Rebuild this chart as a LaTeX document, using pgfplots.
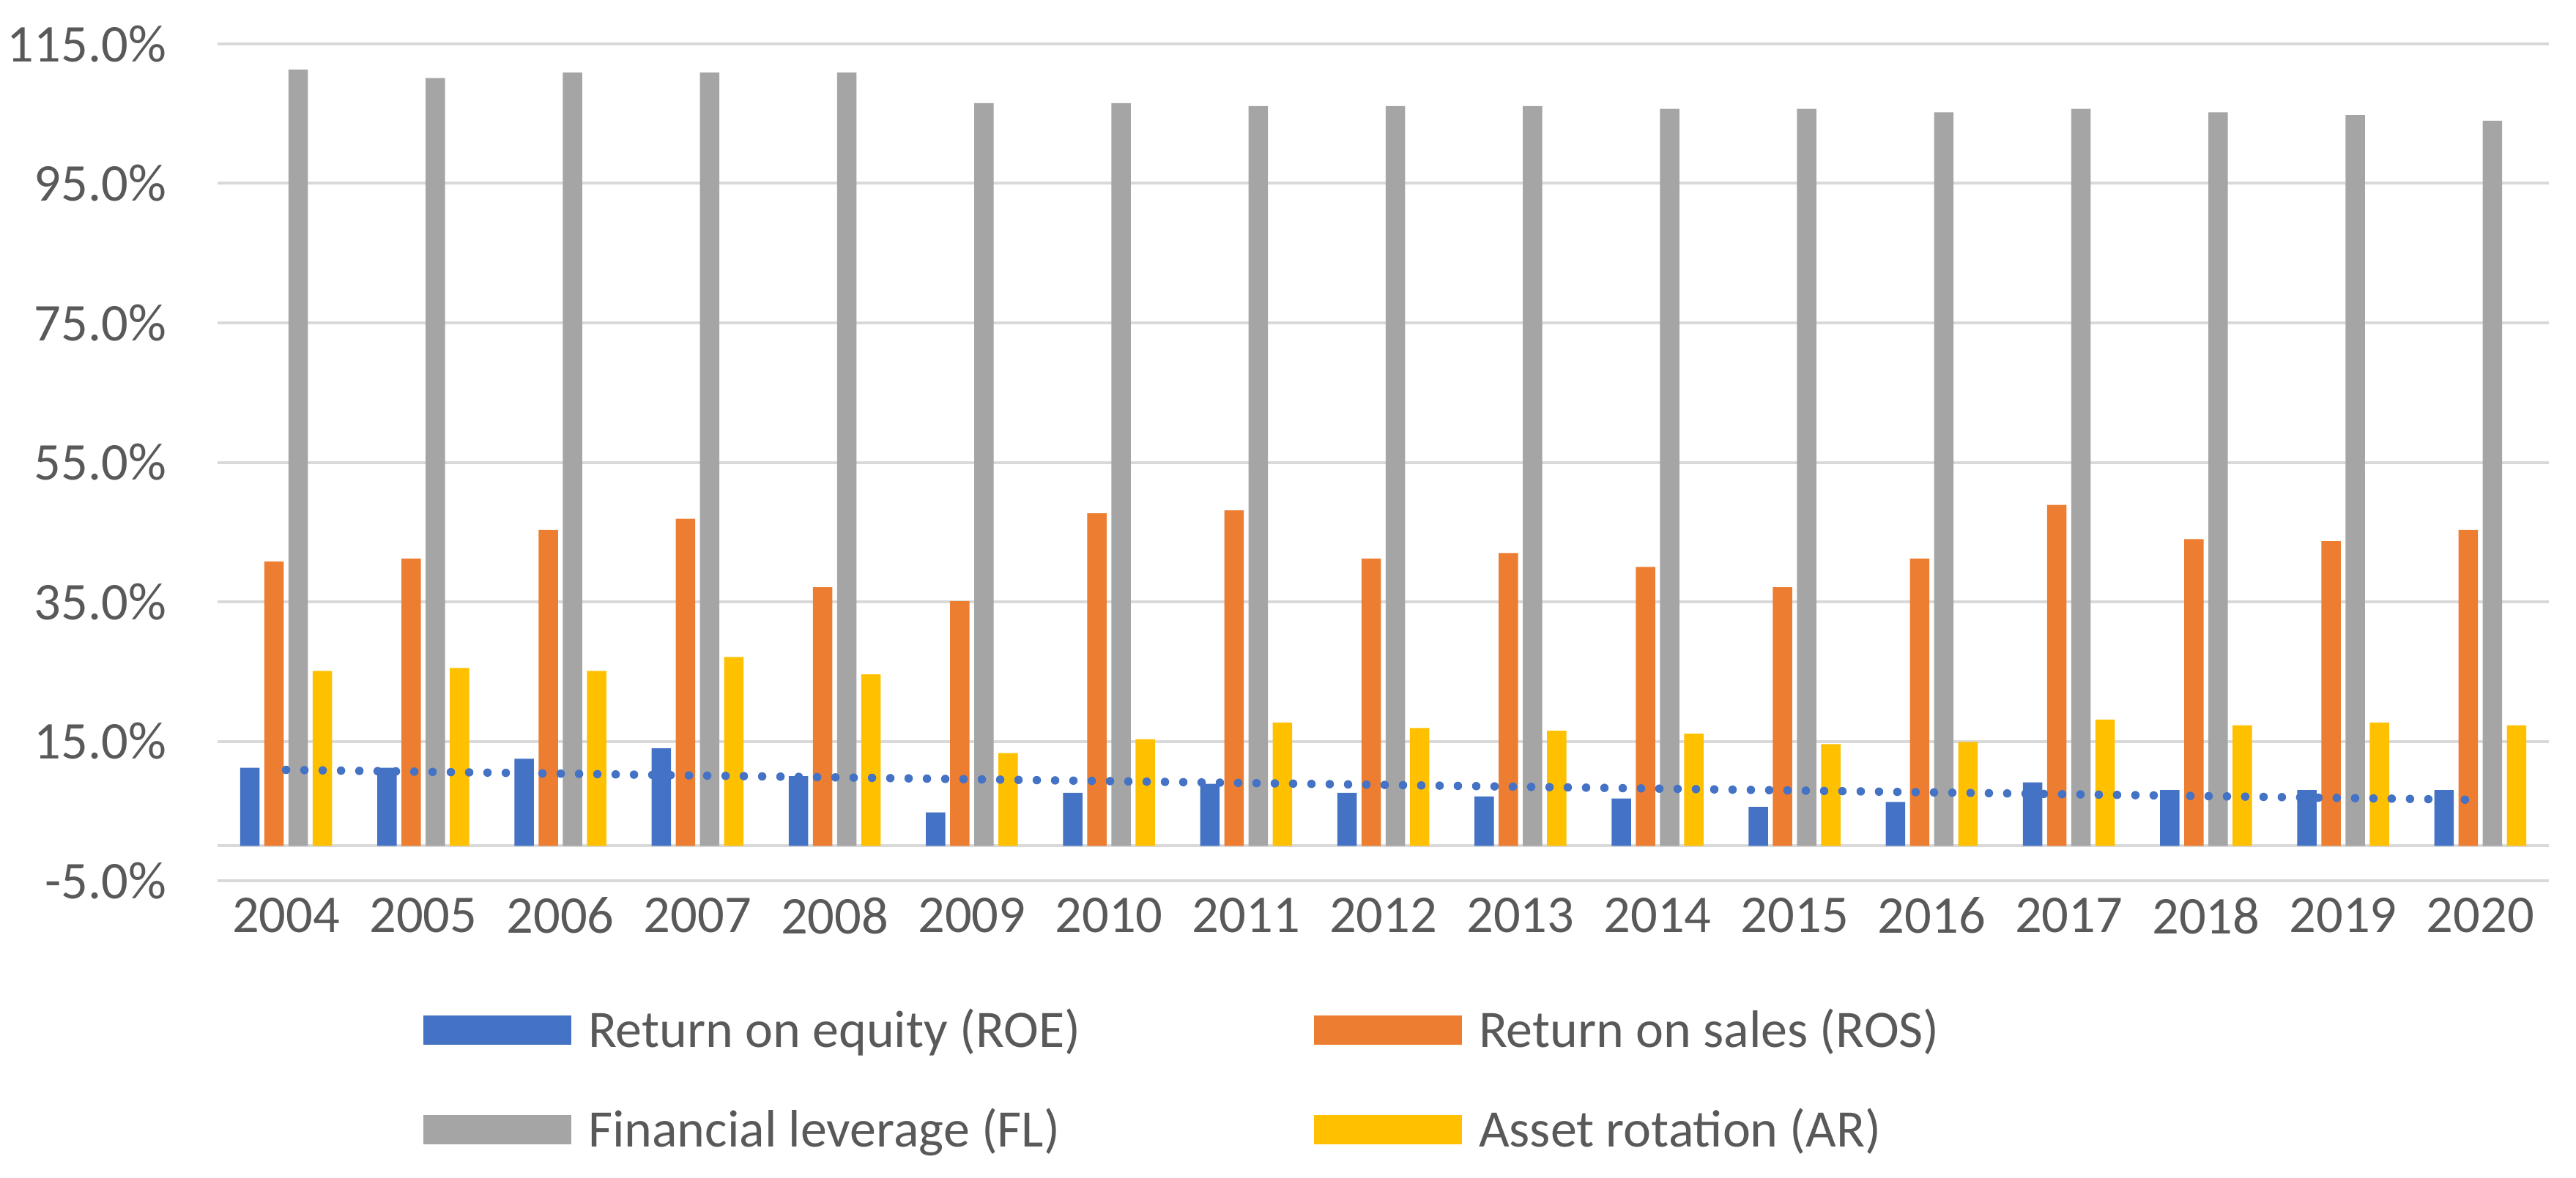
\documentclass[border=0pt]{standalone}
\usepackage{fontspec}
\setmainfont{Carlito}
\usepackage{pgfplots}
\usepackage{pgfplotstable}
\pgfplotsset{compat=1.18}
\definecolor{roe}{HTML}{4472C4}
\definecolor{ros}{HTML}{ED7D31}
\definecolor{fl}{HTML}{A5A5A5}
\definecolor{ar}{HTML}{FFC000}
\definecolor{gridc}{HTML}{D9D9D9}
\definecolor{txt}{HTML}{595959}

\pgfplotstableread{
x ROE ROS FL AR
0 11.2 40.8 111.3 25.1
1 11.2 41.2 110.1 25.5
2 12.5 45.3 110.9 25.1
3 14.0 46.9 110.9 27.1
4 10.0 37.1 110.9 24.6
5 4.8 35.1 106.5 13.3
6 7.6 47.7 106.5 15.3
7 8.9 48.1 106.1 17.7
8 7.6 41.2 106.1 16.9
9 7.1 42.0 106.1 16.5
10 6.8 40.0 105.7 16.1
11 5.6 37.1 105.7 14.6
12 6.3 41.2 105.2 14.9
13 9.1 48.9 105.7 18.1
14 8.0 44.0 105.2 17.3
15 8.0 43.7 104.8 17.7
16 8.0 45.3 104.0 17.3
}\data

\begin{document}
\begin{tikzpicture}
\path[use as bounding box] (-59.4pt,-81pt) rectangle (644pt,240.6pt);
\begin{axis}[
  scale only axis, width=636.6pt, height=228.6pt,
  xmin=-0.5, xmax=16.5, ymin=-5, ymax=115,
  axis line style={draw=none},
  tick style={draw=none}, major tick length=0pt,
  ytick={-5,15,35,55,75,95,115},
  yticklabels={-5.0\%,15.0\%,35.0\%,55.0\%,75.0\%,95.0\%,115.0\%},
  xtick={0,1,2,3,4,5,6,7,8,9,10,11,12,13,14,15,16},
  xticklabels={2004,2005,2006,2007,2008,2009,2010,2011,2012,2013,2014,2015,2016,2017,2018,2019,2020},
  ymajorgrids, grid style={gridc, line width=0.8pt},
  extra y ticks={0}, extra y tick labels={},
  extra y tick style={grid=major, grid style={gridc, line width=0.8pt}},
  tick label style={font=\fontsize{14.5}{16}\selectfont, text=txt, inner sep=0pt},
  yticklabel style={anchor=east, xshift=-13.8pt},
  xticklabel style={anchor=north, yshift=-4.4pt},
  bar width=5.3pt,
  legend columns=2,
  legend cell align=left,
  legend style={at={(0.08828,-0.1582)}, anchor=north west, draw=none, fill=none,
    inner sep=0pt, outer sep=0pt, row sep=17.93pt,
    font=\fontsize{14.4}{16}\selectfont, text=txt,
    nodes={inner sep=0pt, text height=9.27pt, text depth=0pt},
    /tikz/every odd column/.append style={column sep=4.6pt}},
]
\addplot[ybar, bar shift=-9.9pt, fill=roe, draw=none,
  legend image code/.code={\fill[roe] (0pt,-4pt) rectangle (40.4pt,4pt);}]
  table[x=x,y=ROE]{\data};
\addlegendentry{\makebox[198.2pt][l]{Return on equity (ROE)}}
\addplot[ybar, bar shift=-3.3pt, fill=ros, draw=none,
  legend image code/.code={\fill[ros] (0pt,-4pt) rectangle (40.4pt,4pt);}]
  table[x=x,y=ROS]{\data};
\addlegendentry{\makebox[198.2pt][l]{Return on sales (ROS)}}
\addplot[ybar, bar shift=3.3pt, fill=fl, draw=none,
  legend image code/.code={\fill[fl] (0pt,-4pt) rectangle (40.4pt,4pt);}]
  table[x=x,y=FL]{\data};
\addlegendentry{\makebox[198.2pt][l]{Financial leverage (FL)}}
\addplot[ybar, bar shift=9.9pt, fill=ar, draw=none,
  legend image code/.code={\fill[ar] (0pt,-4pt) rectangle (40.4pt,4pt);}]
  table[x=x,y=AR]{\data};
\addlegendentry{\makebox[198.2pt][l]{Asset rotation (AR)}}
\addplot[roe, line width=2.3pt, line cap=round, dash pattern=on 0pt off 5pt, forget plot]
  coordinates {(0,10.9) (16,6.6)};
\end{axis}
\end{tikzpicture}
\end{document}
